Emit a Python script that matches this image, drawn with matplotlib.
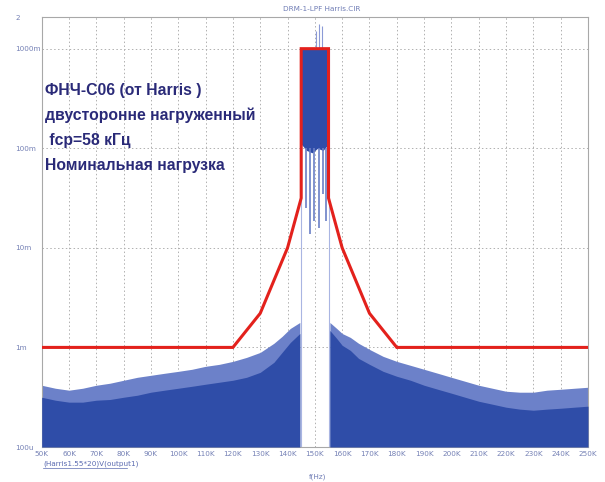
import matplotlib
matplotlib.use("Agg")
import matplotlib.pyplot as plt

# ---- data (frequency in kHz, level in V) ----
lobe_l_freq = [50, 55, 60, 65, 70, 75, 80, 85, 90, 95, 100, 105, 110, 115,
               120, 125, 130, 135, 138, 141, 144.5]
lobe_l_body = [3.16e-4, 2.95e-4, 2.82e-4, 2.82e-4, 2.95e-4, 3.0e-4, 3.16e-4,
               3.31e-4, 3.55e-4, 3.72e-4, 3.89e-4, 4.07e-4, 4.27e-4, 4.47e-4,
               4.68e-4, 5.01e-4, 5.62e-4, 7.08e-4, 8.91e-4, 1.12e-3, 1.38e-3]
lobe_l_peak = [4.17e-4, 3.89e-4, 3.72e-4, 3.89e-4, 4.17e-4, 4.37e-4, 4.68e-4,
               5.01e-4, 5.25e-4, 5.5e-4, 5.75e-4, 6.03e-4, 6.46e-4, 6.76e-4,
               7.24e-4, 7.94e-4, 8.91e-4, 1.1e-3, 1.29e-3, 1.55e-3, 1.78e-3]

lobe_r_freq = [155.5, 158, 160, 163, 166, 170, 175, 180, 185, 190, 195, 200,
               205, 210, 215, 220, 225, 230, 235, 240, 245, 250]
lobe_r_body = [1.48e-3, 1.23e-3, 1.05e-3, 9.33e-4, 7.76e-4, 6.76e-4, 5.75e-4,
               5.13e-4, 4.68e-4, 4.17e-4, 3.8e-4, 3.47e-4, 3.16e-4, 2.88e-4,
               2.69e-4, 2.51e-4, 2.4e-4, 2.34e-4, 2.4e-4, 2.45e-4, 2.51e-4,
               2.57e-4]
lobe_r_peak = [1.78e-3, 1.55e-3, 1.38e-3, 1.26e-3, 1.1e-3, 9.55e-4, 8.13e-4,
               7.24e-4, 6.61e-4, 6.03e-4, 5.5e-4, 5.01e-4, 4.57e-4, 4.17e-4,
               3.89e-4, 3.63e-4, 3.55e-4, 3.55e-4, 3.72e-4, 3.8e-4, 3.89e-4,
               3.98e-4]

band_freq = [145, 147, 149, 151, 153, 155]
band_top = [0.98, 1.0, 1.0, 1.02, 1.0, 0.98]
band_floor = [0.11, 0.095, 0.09, 0.1, 0.095, 0.11]
dip_freq = [146.7, 148.1, 149.7, 151.5, 153.0, 154.2]
dip_level = [0.025, 0.0138, 0.0186, 0.0158, 0.0347, 0.0186]
spur_freq = [150.5, 151.6, 152.6]
spur_level = [1.5, 1.75, 1.7]

mask_freq = [50, 120, 130, 140, 145, 145, 155, 155, 160, 170, 180, 250]
mask_level = [1e-3, 1e-3, 2.2e-3, 1e-2, 3.16e-2, 1.0, 1.0, 3.16e-2, 1e-2,
              2.2e-3, 1e-3, 1e-3]

x_ticks = list(range(50, 251, 10))
x_labels = [f"{v}K" for v in x_ticks]
y_ticks = [1e-4, 1e-3, 1e-2, 1e-1, 1.0, 2.08]
y_labels = ["100u", "1m", "10m", "100m", "1000m", "2"]

annotation = ["ФНЧ-С06 (от Harris )", "двусторонне нагруженный",
              " fcp=58 кГц", "Номинальная нагрузка"]

# ---- figure ----
W, H, DPI = 605, 482, 100
fig = plt.figure(figsize=(W / DPI, H / DPI), dpi=DPI)
fig.patch.set_facecolor("white")
ax = fig.add_axes([41.7 / W, 1 - 447 / H, (588 - 41.7) / W, (447 - 17) / H])
ax.set_yscale("log")
ax.set_xlim(50, 250)
ax.set_ylim(1e-4, 2.08)

blue = "#2f4da8"
light = "#6c81c9"
floor = 1e-4

# side lobes: dense body plus lighter spike band above it
ax.fill_between(lobe_l_freq, floor, lobe_l_peak, color=light, lw=0, zorder=2)
ax.fill_between(lobe_l_freq, floor, lobe_l_body, color=blue, lw=0, zorder=3)
ax.fill_between(lobe_r_freq, floor, lobe_r_peak, color=light, lw=0, zorder=2)
ax.fill_between(lobe_r_freq, floor, lobe_r_body, color=blue, lw=0, zorder=3)

# pass band
ax.vlines([145, 155], floor, 1.0, color="#a9b5e2", lw=0.8, zorder=2)
ax.fill_between(band_freq, band_floor, band_top, color=blue, lw=0, zorder=3)
ax.vlines(dip_freq, dip_level, 0.1, color="#6a7fc6", lw=1.2, zorder=3)
ax.vlines(spur_freq, 1.0, spur_level, color="#8b9ad6", lw=0.8, zorder=3)

# mask
ax.plot(mask_freq, mask_level, color="#e3211c", lw=2.2, zorder=5,
        solid_joinstyle="miter")

# grid and frame
ax.set_xticks(x_ticks)
ax.set_xticklabels(x_labels)
ax.set_yticks(y_ticks)
ax.set_yticklabels(y_labels)
ax.minorticks_off()
ax.grid(True, color="#b0b0b0", lw=0.7, ls=(0, (1.5, 2.5)), zorder=1)
for s in ax.spines.values():
    s.set_color("#a8a8a8")
    s.set_linewidth(0.8)
ax.tick_params(length=0, colors="#7480b5", labelsize=5.2)
ax.tick_params(axis="y", pad=19.2)
for t in ax.get_yticklabels():
    t.set_horizontalalignment("left")
ax.tick_params(axis="x", pad=3)

# title and footers
fig.text(322 / W, 1 - 9 / H, "DRM-1-LPF Harris.CIR", ha="center", va="center",
         fontsize=5.2, color="#6f7cb5")
fig.text(43 / W, 1 - 464 / H, "(Harris1.55*20)V(output1)", ha="left",
         va="center", fontsize=5.2, color="#5a6ab0")
fig.add_artist(plt.Line2D([43 / W, 127 / W], [1 - 468 / H, 1 - 468 / H],
                          color="#5a6ab0", lw=0.5))
fig.text(318 / W, 1 - 477 / H, "f(Hz)", ha="center", va="center",
         fontsize=5.2, color="#6f7cb5")

# annotation block
for i, line in enumerate(annotation):
    fig.text(45 / W, 1 - (90 + 25.3 * i) / H, line, ha="left", va="center",
             fontsize=11.3, fontweight="bold", color="#2a2a78",
             family=["Liberation Sans", "DejaVu Sans"])

fig.savefig("out.png", dpi=DPI)
